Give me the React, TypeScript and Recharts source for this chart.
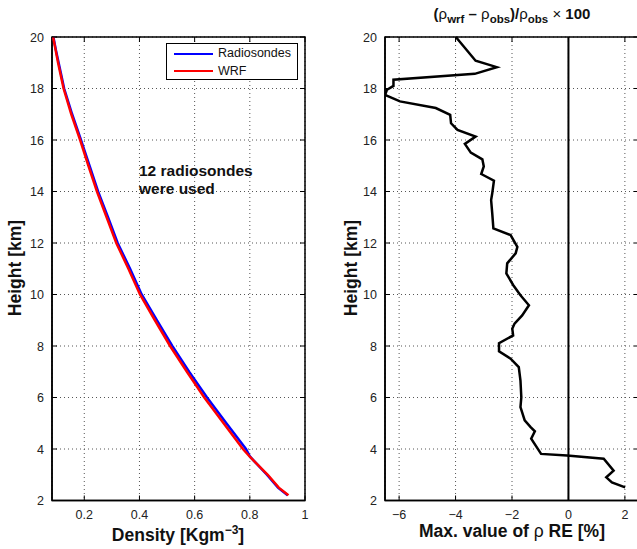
import React from "react";
import {
  ScatterChart,
  Scatter,
  XAxis,
  YAxis,
  CartesianGrid,
  ReferenceLine,
  ReferenceArea,
} from "recharts";

// density profiles (km, kg/m^3)
const RHO_HEIGHTS = [20, 19.5, 19, 18.5, 18, 17, 16, 15, 14, 13, 12, 11, 10, 9, 8, 7, 6, 5, 4, 3.7, 3, 2.5, 2.2];
const RHO_WRF = [0.087, 0.096, 0.105, 0.115, 0.125, 0.153, 0.185, 0.215, 0.246, 0.281, 0.316, 0.36, 0.402, 0.456, 0.511, 0.572, 0.635, 0.705, 0.775, 0.8, 0.865, 0.905, 0.94];
const RHO_OBS = [0.088, 0.097, 0.107, 0.117, 0.127, 0.156, 0.188, 0.219, 0.25, 0.286, 0.321, 0.366, 0.408, 0.463, 0.519, 0.58, 0.645, 0.715, 0.786, 0.801, 0.862, 0.902, 0.937];

// relative error profile (km, %)
const RE_HEIGHTS = [20, 19.08, 18.83, 18.57, 18.34, 18.1, 17.95, 17.75, 17.5, 17.24, 16.98, 16.65, 16.39, 16.13, 15.85, 15.51, 15.25, 14.97, 14.68, 14.42, 13.93, 13.67, 13.15, 12.57, 12.31, 11.85, 11.6, 11.21, 10.82, 10.37, 9.97, 9.58, 9.19, 8.87, 8.67, 8.41, 8.11, 7.79, 7.51, 7.18, 6.66, 6.01, 5.63, 5.11, 4.85, 4.69, 4.4, 3.81, 3.75, 3.62, 3.16, 2.9, 2.7, 2.51];
const RE_VALUES = [-3.99, -3.29, -2.54, -3.32, -6.2, -6.2, -6.43, -6.5, -5.97, -4.7, -4.19, -4.16, -3.93, -3.29, -3.67, -3.46, -3.05, -3.0, -3.09, -2.64, -2.7, -2.74, -2.7, -2.66, -2.05, -1.81, -1.87, -2.17, -2.2, -1.96, -1.7, -1.4, -1.64, -1.91, -1.99, -1.96, -2.46, -2.46, -2.05, -1.76, -1.7, -1.67, -1.7, -1.55, -1.34, -1.19, -1.32, -0.97, -0.05, 1.25, 1.6, 1.34, 1.54, 2.01];

const H_TICKS = [2, 4, 6, 8, 10, 12, 14, 16, 18, 20];
const RHO_TICKS = [0.2, 0.4, 0.6, 0.8, 1];
const RE_TICKS = [-6, -4, -2, 0, 2];

const wrf = RHO_HEIGHTS.map((h, i) => ({ h, v: RHO_WRF[i] }));
const obs = RHO_HEIGHTS.map((h, i) => ({ h, v: RHO_OBS[i] }));
const re = RE_HEIGHTS.map((h, i) => ({ h, v: RE_VALUES[i] }));

const FONT = "'Liberation Sans', Arial, Helvetica, sans-serif";
const TOP = 37;
const BOTTOM = 500.5;

const fmt = (v: number) => String(v).replace("-", "\u2212");

function makeYTick(left: number, right: number) {
  return (props: any) => {
    const { x, y, payload } = props;
    return (
      <g>
        <line x1={left} x2={left + 5} y1={y} y2={y} stroke="#000" strokeWidth={1} />
        <line x1={right - 5} x2={right} y1={y} y2={y} stroke="#000" strokeWidth={1} />
        <text x={x} y={y} dy={4.5} textAnchor="end" fontSize={12.5} fill="#222" fontFamily={FONT}>
          {fmt(payload.value)}
        </text>
      </g>
    );
  };
}

function makeXTick() {
  return (props: any) => {
    const { x, y, payload } = props;
    return (
      <g>
        <line x1={x} x2={x} y1={BOTTOM - 5} y2={BOTTOM} stroke="#000" strokeWidth={1} />
        <line x1={x} x2={x} y1={TOP} y2={TOP + 5} stroke="#000" strokeWidth={1} />
        <text x={x} y={y} dy={10} textAnchor="middle" fontSize={12.5} fill="#222" fontFamily={FONT}>
          {fmt(payload.value)}
        </text>
      </g>
    );
  };
}

const LEGEND_ITEMS = [
  { name: "Radiosondes", color: "#0000ff" },
  { name: "WRF", color: "#ff0000" },
];

function LegendBox() {
  return (
    <div
      style={{
        position: "absolute",
        left: 166,
        top: 43,
        width: 132,
        height: 37,
        border: "1px solid #000",
        background: "#fff",
        fontFamily: FONT,
        fontSize: 12.5,
        color: "#111",
        boxSizing: "border-box",
        padding: "1px 0 0 7px",
        lineHeight: "17.5px",
      }}
    >
      {LEGEND_ITEMS.map((it) => (
        <div key={it.name} style={{ display: "flex", alignItems: "center" }}>
          <span style={{ display: "inline-block", width: 39, height: 0, borderTop: `2.5px solid ${it.color}`, marginRight: 5 }} />
          {it.name}
        </div>
      ))}
    </div>
  );
}

const gridProps = { stroke: "#555", strokeDasharray: "1 3", strokeWidth: 1 };
const noShape = () => <g />;

export default function App() {
  return (
    <div style={{ position: "absolute", left: 0, top: 0, width: 637, height: 549, overflow: "hidden", background: "#fff" }}>
      {/* density panel */}
      <div style={{ position: "absolute", left: 0, top: 0 }}>
        <ScatterChart width={320} height={549} margin={{ top: TOP, right: 15, bottom: 0, left: 0 }}>
          <CartesianGrid {...gridProps} />
          <XAxis
            type="number"
            dataKey="v"
            domain={[0.083, 1]}
            ticks={RHO_TICKS}
            height={48.5}
            axisLine={{ stroke: "#000", strokeWidth: 1.5 }}
            tickLine={false}
            tick={makeXTick()}
            allowDataOverflow
          />
          <YAxis
            type="number"
            dataKey="h"
            domain={[2, 20]}
            ticks={H_TICKS}
            width={52}
            axisLine={{ stroke: "#000", strokeWidth: 1.5 }}
            tickLine={false}
            tick={makeYTick(52, 305)}
          />
          <ReferenceArea x1={0.083} x2={1} y1={2} y2={20} fill="none" stroke="#000" strokeWidth={1.5} ifOverflow="visible" />
          <Scatter
            name="Radiosondes"
            data={obs}
            line={{ stroke: "#0000ff", strokeWidth: 2.5 }}
            shape={noShape}
            isAnimationActive={false}
          />
          <Scatter
            name="WRF"
            data={wrf}
            line={{ stroke: "#ff0000", strokeWidth: 2.5 }}
            shape={noShape}
            isAnimationActive={false}
          />
        </ScatterChart>
      </div>
      <LegendBox />

      {/* relative error panel */}
      <div style={{ position: "absolute", left: 320, top: 0 }}>
        <ScatterChart width={322} height={549} margin={{ top: TOP, right: 3, bottom: 0, left: 0 }}>
          <CartesianGrid {...gridProps} />
          <XAxis
            type="number"
            dataKey="v"
            domain={[-6.5, 2.5]}
            ticks={RE_TICKS}
            height={48.5}
            axisLine={{ stroke: "#000", strokeWidth: 1.5 }}
            tickLine={false}
            tick={makeXTick()}
            allowDataOverflow
          />
          <YAxis
            type="number"
            dataKey="h"
            domain={[2, 20]}
            ticks={H_TICKS}
            width={65}
            axisLine={{ stroke: "#000", strokeWidth: 1.5 }}
            tickLine={false}
            tick={makeYTick(65, 319)}
          />
          <ReferenceArea x1={-6.5} x2={2.5} y1={2} y2={20} fill="none" stroke="#000" strokeWidth={1.5} ifOverflow="visible" />
          <ReferenceLine x={0} stroke="#000" strokeWidth={2} />
          <Scatter
            name="RE"
            data={re}
            line={{ stroke: "#000", strokeWidth: 2.5 }}
            shape={noShape}
            isAnimationActive={false}
          />
        </ScatterChart>
      </div>

      {/* titles, axis labels and annotation */}
      <svg width={637} height={549} style={{ position: "absolute", left: 0, top: 0, pointerEvents: "none" }} fontFamily={FONT}>
        <text x={139} y={175.5} fontSize={15.5} fontWeight="bold" fill="#111">12 radiosondes</text>
        <text x={139} y={194} fontSize={15.5} fontWeight="bold" fill="#111">were used</text>

        <text transform="translate(21,268) rotate(-90)" textAnchor="middle" fontSize={17.5} fontWeight="bold" fill="#111">
          Height [km]
        </text>
        <text transform="translate(357,268) rotate(-90)" textAnchor="middle" fontSize={17.5} fontWeight="bold" fill="#111">
          Height [km]
        </text>

        <text x={178} y={541} textAnchor="middle" fontSize={17.5} fontWeight="bold" fill="#111">
          Density [Kgm<tspan dy={-7} fontSize={12}>{"\u22123"}</tspan>
          <tspan dy={7}>]</tspan>
        </text>
        <text x={512} y={537} textAnchor="middle" fontSize={17.5} fontWeight="bold" fill="#111">
          Max. value of <tspan fontWeight="normal">ρ</tspan> RE [%]
        </text>

        <text x={512} y={19} textAnchor="middle" fontSize={15} fontWeight="bold" fill="#111">
          (<tspan fontWeight="normal">ρ</tspan>
          <tspan dy={4} fontSize={11.5}>wrf</tspan>
          <tspan dy={-4}>{" \u2013 "}</tspan>
          <tspan fontWeight="normal">ρ</tspan>
          <tspan dy={4} fontSize={11.5}>obs</tspan>
          <tspan dy={-4}>)/</tspan>
          <tspan fontWeight="normal">ρ</tspan>
          <tspan dy={4} fontSize={11.5}>obs</tspan>
          <tspan dy={-4} fontWeight="normal">{" \u00d7 "}</tspan>
          <tspan>100</tspan>
        </text>
      </svg>
    </div>
  );
}
